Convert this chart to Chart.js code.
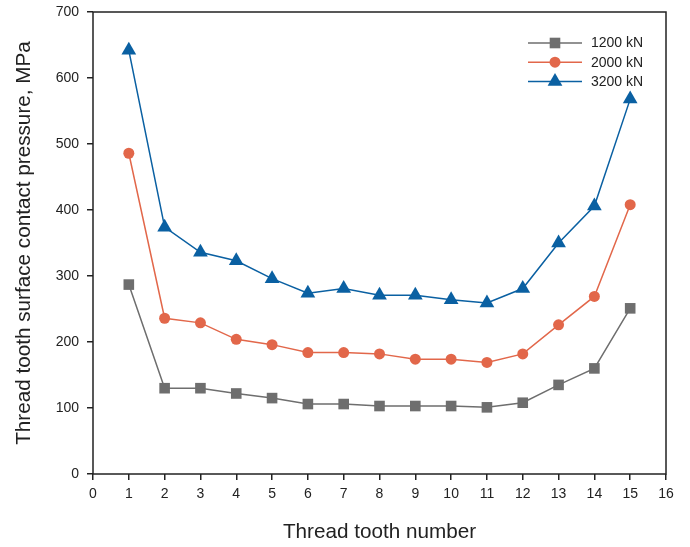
<!DOCTYPE html>
<html>
<head>
<meta charset="utf-8">
<script src="https://cdn.jsdelivr.net/npm/chart.js@4"></script>
<style>
  body { margin: 0; background: #fff; }
  #wrap { width: 690px; height: 547px; }
</style>
</head>
<body>
<div id="wrap"><canvas id="chart" width="690" height="547"></canvas></div>
<script>
const teeth = [1, 2, 3, 4, 5, 6, 7, 8, 9, 10, 11, 12, 13, 14, 15];
const load1200 = [287, 130, 130, 122, 115, 106, 106, 103, 103, 103, 101, 108, 135, 160, 251];
const load2000 = [486, 236, 229, 204, 196, 184, 184, 182, 174, 174, 169, 182, 226, 269, 408];
const load3200 = [642, 374, 336, 323, 296, 274, 281, 271, 271, 264, 259, 281, 350, 406, 568];
const seriesNames = ['1200 kN', '2000 kN', '3200 kN'];

const FONT = 'Arial, "Liberation Sans", sans-serif';

function toXY(vals) {
    return vals.map((v, i) => ({ x: teeth[i], y: v }));
}

// frame around plot + legend drawn by hand (line with marker in the middle)
const framePlugin = {
    id: 'frame',
    afterDraw(chart) {
        const { ctx, chartArea: a } = chart;
        ctx.save();
        ctx.strokeStyle = '#222';
        ctx.lineWidth = 1.5;
        ctx.strokeRect(a.left, a.top, a.right - a.left, a.bottom - a.top);

        chart.data.datasets.forEach((ds, i) => {
            const y = 43 + i * 19.2;
            ctx.strokeStyle = ds.borderColor;
            ctx.lineWidth = 1.5;
            ctx.beginPath();
            ctx.moveTo(528, y);
            ctx.lineTo(582, y);
            ctx.stroke();
            ctx.fillStyle = ds.backgroundColor;
            Chart.helpers.drawPoint(ctx, {
                pointStyle: ds.pointStyle,
                radius: ds.pointRadius,
                borderWidth: 0
            }, 555, y);
            ctx.fillStyle = '#222';
            ctx.font = '14px ' + FONT;
            ctx.textBaseline = 'middle';
            ctx.fillText(ds.label, 591, y + 0.5);
        });
        ctx.restore();
    }
};

const colors = ['#6e6e6e', '#e2674a', '#0a60a2'];
const styles = ['rect', 'circle', 'triangle'];
const radii = [7.5, 5.5, 8.5];
const values = [load1200, load2000, load3200];

const tickGrid = { display: true, drawOnChartArea: false, drawTicks: true, tickLength: 6, color: '#222', lineWidth: 1.5 };

new Chart(document.getElementById('chart').getContext('2d'), {
    type: 'line',
    data: {
        datasets: values.map((v, i) => ({
            label: seriesNames[i],
            data: toXY(v),
            borderColor: colors[i],
            backgroundColor: colors[i],
            pointBackgroundColor: colors[i],
            pointBorderWidth: 0,
            pointStyle: styles[i],
            pointRadius: radii[i],
            borderWidth: 1.5,
            tension: 0
        }))
    },
    options: {
        responsive: false,
        animation: false,
        layout: { padding: { top: 12, right: 24, left: 0, bottom: 0 } },
        plugins: { legend: { display: false }, tooltip: { enabled: false } },
        scales: {
            x: {
                type: 'linear',
                min: 0, max: 16,
                border: { display: false },
                grid: tickGrid,
                ticks: { stepSize: 1, color: '#222', font: { size: 14, family: FONT }, padding: 6 },
                title: { display: true, text: 'Thread tooth number', color: '#222', font: { size: 20.7, family: FONT }, padding: { top: 4, bottom: 2.5 } },
                afterFit(s) { s.height = 73; }
            },
            y: {
                min: 0, max: 700,
                border: { display: false },
                grid: tickGrid,
                ticks: { stepSize: 100, color: '#222', font: { size: 14, family: FONT }, padding: 8 },
                title: { display: true, text: 'Thread tooth surface contact pressure, MPa', color: '#222', font: { size: 20.7, family: FONT }, padding: { top: 12, bottom: 4 } },
                afterFit(s) { s.width = 93; s.paddingTop = 0; s.paddingBottom = 0; }
            }
        }
    },
    plugins: [framePlugin]
});
</script>
</body>
</html>
